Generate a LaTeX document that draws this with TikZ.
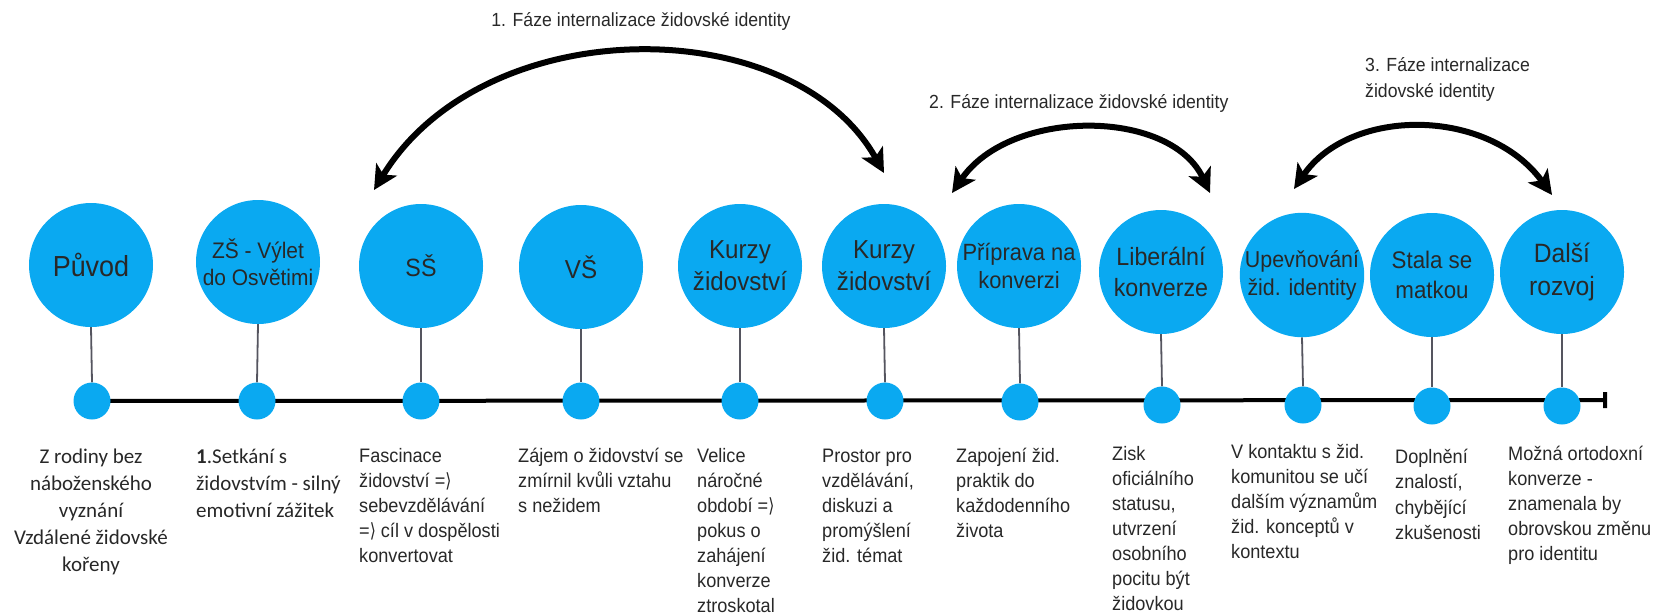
\documentclass[tikz,border=0pt]{standalone}
\usepackage{fontspec}
\usetikzlibrary{arrows.meta}
\newfontfamily\cond[FakeStretch=0.93]{Liberation Sans}
\newfontfamily\carl{Carlito}
\newfontfamily\djv[FakeStretch=0.8]{DejaVu Sans}
\definecolor{cblue}{RGB}{10,169,241}
\definecolor{txt}{RGB}{40,40,40}
\definecolor{stemc}{RGB}{85,85,95}
\pgfdeclarelayer{background}
\pgfsetlayers{background,main}
\tikzset{
  big/.style={circle, fill=cblue, minimum size=124pt, inner sep=0pt, align=center, text=txt},
  dotn/.style={circle, fill=cblue, minimum size=37pt, inner sep=0pt},
  stem/.style={draw=stemc, line width=1.8pt},
  btext/.style={inner sep=0pt, align=left, text=txt, anchor=north west, font=\cond\fontsize{19.5}{25}\selectfont},
  ctext/.style={inner sep=0pt, text=txt, font=\carl\fontsize{21}{27}\selectfont},
  lbl/.style={inner sep=0pt, text=txt, font=\cond\fontsize{19}{26}\selectfont},
  arcarrow/.style={line width=6pt, black, {Stealth[length=24pt,width=24pt,inset=6pt]}-{Stealth[length=24pt,width=24pt,inset=6pt]}},
  tline/.style={line width=4pt, black, -{Bar[width=16pt]}}
}
\newcommand{\fs}[1]{\fontsize{#1}{1.22\dimexpr#1pt\relax}\selectfont}
\newcommand{\st}{\rule{0pt}{16pt}}
\newcommand{\ra}{{\djv ⟩}}
\begin{document}
\begin{tikzpicture}[x=1pt,y=-1pt]
\useasboundingbox (0,0) rectangle (1656,614);
% circles
\node[big, font=\cond\fs{29}] (c1) at (91,265) {Původ};
\node[big, font=\cond\fs{22.5}] (c2) at (258,262) {ZŠ - Výlet\\do Osvětimi};
\node[big, font=\cond\fs{25}] (c3) at (421,266) {SŠ};
\node[big, font=\cond\fs{26}] (c4) at (581,267) {VŠ};
\node[big, font=\cond\fs{26}] (c5) at (740,266) {Kurzy\\židovství};
\node[big, font=\cond\fs{26}] (c6) at (884,266) {Kurzy\\židovství};
\node[big, font=\cond\fs{23.5}] (c7) at (1019,266) {Příprava na\\konverzi};
\node[big, font=\cond\fs{25}] (c8) at (1161,272) {Liberální\\konverze};
\node[big, font=\cond\fs{23}] (c9) at (1302,275) {Upevňování\\žid. identity};
\node[big, font=\cond\fs{24}] (c10) at (1432,275) {Stala se\\matkou};
\node[big, font=\cond\fs{26.5}] (c11) at (1562,272) {Další\\rozvoj};
% dots
\node[dotn] (d1) at (92,401) {};
\node[dotn] (d2) at (257,401) {};
\node[dotn] (d3) at (421,401) {};
\node[dotn] (d4) at (581,401) {};
\node[dotn] (d5) at (740,401) {};
\node[dotn] (d6) at (885,401) {};
\node[dotn] (d7) at (1020,402) {};
\node[dotn] (d8) at (1162,405) {};
\node[dotn] (d9) at (1303,405) {};
\node[dotn] (d10) at (1432,406) {};
\node[dotn] (d11) at (1562,406) {};
\coordinate (tend) at (1607,400);
\begin{pgfonlayer}{background}
\draw[tline] (d1.center) -- (tend);
\foreach \i in {1,...,11} { \draw[stem] (c\i.south) -- (d\i.north); }
\end{pgfonlayer}
% texts below
\node[ctext, align=center, anchor=north] (t1) at (91,447) {\st Z rodiny bez\\náboženského\\vyznání\\Vzdálené židovské\\kořeny};
\node[ctext, align=left, anchor=north west] (t2) at (196,447) {\st\textbf{1}.Setkání s\\židovstvím - silný\\emotivní zážitek};
\node[btext] (t3) at (359,446) {\st Fascinace\\židovství =\ra\\sebevzdělávání\\=\ra{} cíl v dospělosti\\konvertovat};
\node[btext] (t4) at (518,446) {\st Zájem o židovství se\\zmírnil kvůli vztahu\\s nežidem};
\node[btext] (t5) at (697,446) {\st Velice\\náročné\\období =\ra\\pokus o\\zahájení\\konverze\\ztroskotal};
\node[btext] (t6) at (822,446) {\st Prostor pro\\vzdělávání,\\diskuzi a\\promýšlení\\žid. témat};
\node[btext] (t7) at (956,446) {\st Zapojení žid.\\praktik do\\každodenního\\života};
\node[btext] (t8) at (1112,444) {\st Zisk\\oficiálního\\statusu,\\utvrzení\\osobního\\pocitu být\\židovkou};
\node[btext] (t9) at (1231,442) {\st V kontaktu s žid.\\komunitou se učí\\dalším významům\\žid. konceptů v\\kontextu};
\node[btext, font=\cond\fontsize{19.5}{25.5}\selectfont] (t10) at (1395,447) {\st Doplnění\\znalostí,\\chybějící\\zkušenosti};
\node[btext] (t11) at (1508,444) {\st Možná ortodoxní\\konverze -\\znamenala by\\obrovskou změnu\\pro identitu};
% phase labels
\node[lbl, anchor=base] (l1) at (641,26) {1. Fáze internalizace židovské identity};
\node[lbl, anchor=base west] (l2) at (929,108) {2. Fáze internalizace židovské identity};
\node[lbl, anchor=north west, align=left] (l3) at (1365,55) {\st 3. Fáze internalizace\\židovské identity};
% arcs
\coordinate (a1s) at (374,190);
\coordinate (a1e) at (884,173);
\coordinate (a2s) at (952,193);
\coordinate (a2e) at (1210,193);
\coordinate (a3s) at (1294,189);
\coordinate (a3e) at (1552,195);
\draw[arcarrow] (a1s) .. controls (484,10) and (793,10) .. (a1e);
\draw[arcarrow] (a2s) .. controls (1010,108) and (1170,108) .. (a2e);
\draw[arcarrow] (a3s) .. controls (1350,107) and (1488,107) .. (a3e);
\end{tikzpicture}
\end{document}
